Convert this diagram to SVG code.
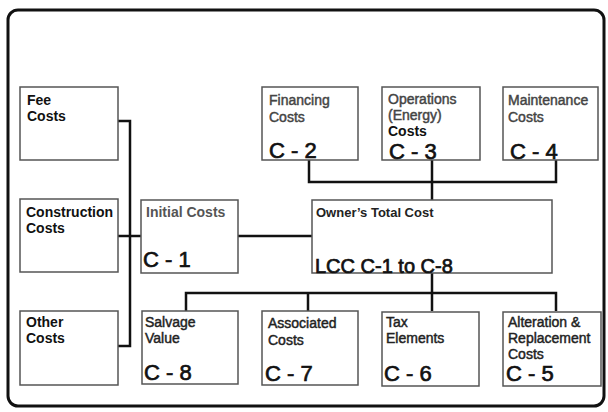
<svg xmlns="http://www.w3.org/2000/svg" width="608" height="412" viewBox="0 0 608 412">
<style>
.box{fill:#fff;stroke:#555;stroke-width:1.5}
.conn{fill:none;stroke:#111;stroke-width:2.5}
.t{font-family:"Liberation Sans",Arial,sans-serif;font-size:14px;font-weight:bold;fill:#111}
.m{font-family:"Liberation Sans",Arial,sans-serif;font-size:14px;font-weight:normal;fill:#444;stroke:#444;stroke-width:0.45}
.c{font-family:"Liberation Sans",Arial,sans-serif;font-size:22px;font-weight:normal;fill:#111;stroke:#111;stroke-width:0.7}
</style>
<rect x="0" y="0" width="608" height="412" fill="#fff"/>
<rect x="8" y="10" width="596" height="396" rx="10" fill="none" stroke="#111" stroke-width="3"/>
<g id="connectors">
<path class="conn" d="M118,121 H130 V346 H118"/>
<path class="conn" d="M118,236 H141"/>
<path class="conn" d="M238,236 H312"/>
<path class="conn" d="M309,160 V182 H556 V160 M432,160 V200"/>
<path class="conn" d="M432,273 V311 M186,311 V293 H556 V311 M308,293 V311"/>
</g>
<g id="fee"><rect class="box" x="20" y="87" width="98" height="73"/><text class="t" x="27" y="105">Fee</text><text class="t" x="27" y="121">Costs</text></g>
<g id="construction"><rect class="box" x="20" y="199" width="98" height="73"/><text class="t" x="26" y="217">Construction</text><text class="t" x="26" y="233">Costs</text></g>
<g id="other"><rect class="box" x="20" y="311" width="98" height="74"/><text class="t" x="26" y="327">Other</text><text class="t" x="26" y="343">Costs</text></g>
<g id="initial"><rect class="box" x="141" y="200" width="97" height="73"/><text class="t" x="146" y="217" style="fill:#555">Initial Costs</text><text class="c" x="143" y="267">C - 1</text></g>
<g id="owner"><rect class="box" x="312" y="200" width="240" height="73"/><text class="t" x="316" y="217" style="font-size:13px;fill:#222">Owner’s Total Cost</text><text class="c" x="315" y="273" style="font-size:20px">LCC C-1 to C-8</text></g>
<g id="financing"><rect class="box" x="262" y="87" width="96" height="73"/><text class="m" x="269" y="105">Financing</text><text class="m" x="269" y="122">Costs</text><text class="c" x="269" y="158">C - 2</text></g>
<g id="operations"><rect class="box" x="382" y="87" width="98" height="73"/><text class="m" x="388" y="104">Operations</text><text class="m" x="388" y="120">(Energy)</text><text class="t" x="388" y="136">Costs</text><text class="c" x="389" y="159">C - 3</text></g>
<g id="maintenance"><rect class="box" x="503" y="87" width="95" height="73"/><text class="m" x="508" y="105">Maintenance</text><text class="m" x="508" y="122">Costs</text><text class="c" x="510" y="159">C - 4</text></g>
<g id="salvage"><rect class="box" x="142" y="311" width="96" height="73"/><text class="m" x="145" y="327" style="fill:#222;stroke:#222">Salvage</text><text class="m" x="145" y="343" style="fill:#222;stroke:#222">Value</text><text class="c" x="144" y="380">C - 8</text></g>
<g id="associated"><rect class="box" x="262" y="311" width="96" height="74"/><text class="m" x="268" y="328" style="fill:#222;stroke:#222">Associated</text><text class="m" x="268" y="345" style="fill:#222;stroke:#222">Costs</text><text class="c" x="265" y="381">C - 7</text></g>
<g id="tax"><rect class="box" x="382" y="312" width="97" height="74"/><text class="m" x="386" y="327" style="fill:#222;stroke:#222">Tax</text><text class="m" x="386" y="343" style="fill:#222;stroke:#222">Elements</text><text class="c" x="384" y="381">C - 6</text></g>
<g id="alteration"><rect class="box" x="503" y="312" width="98" height="74"/><text class="m" x="508" y="327" style="fill:#222;stroke:#222">Alteration &amp;</text><text class="m" x="508" y="343" style="fill:#222;stroke:#222">Replacement</text><text class="m" x="508" y="359" style="fill:#222;stroke:#222">Costs</text><text class="c" x="506" y="381">C - 5</text></g>
</svg>
